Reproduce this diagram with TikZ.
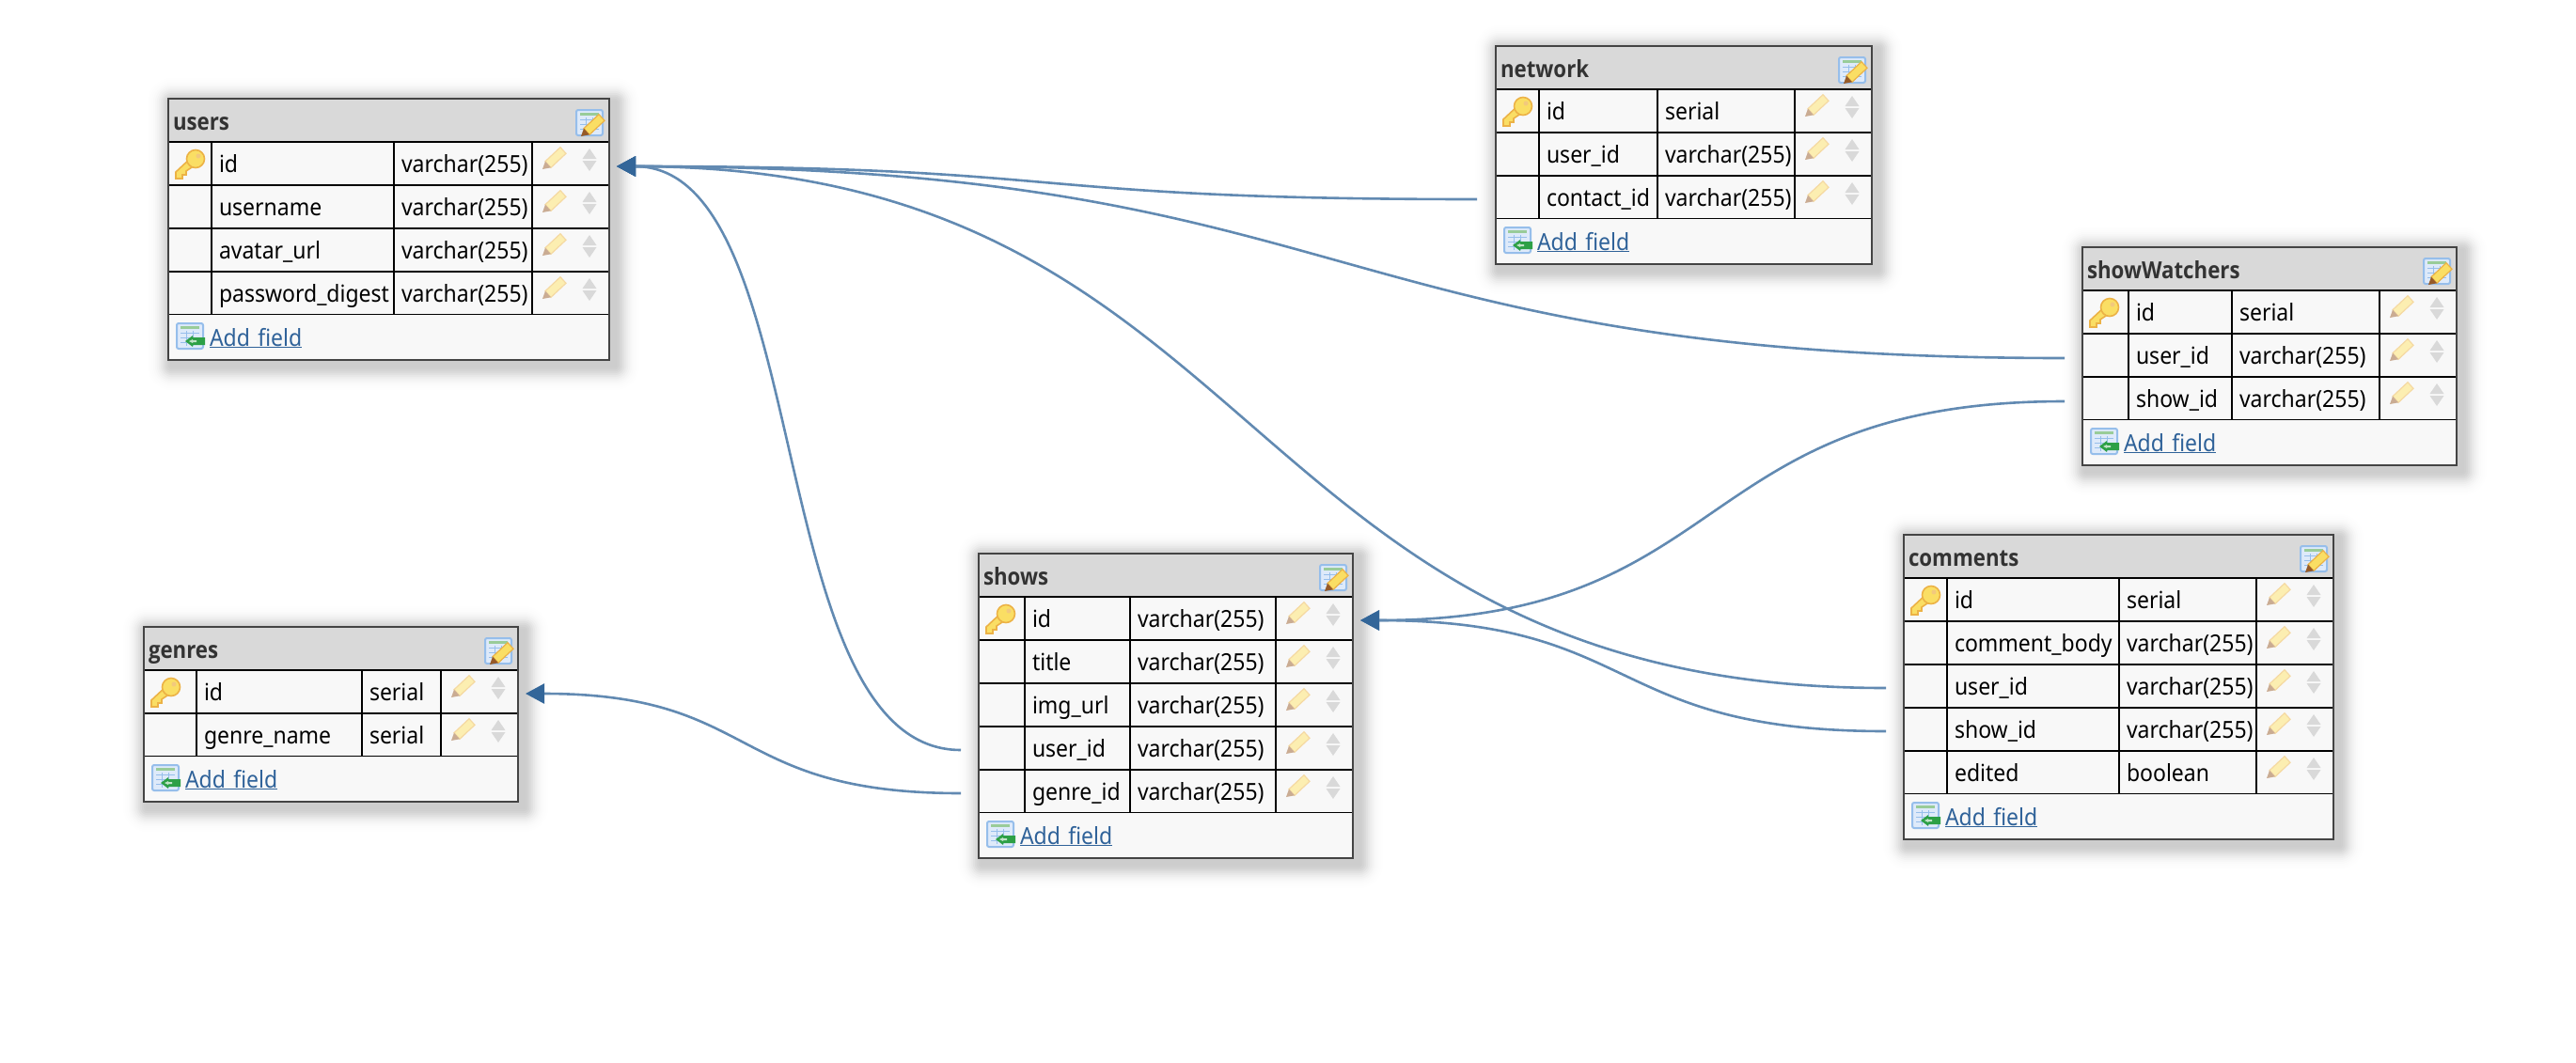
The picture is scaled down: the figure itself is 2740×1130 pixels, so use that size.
\documentclass[tikz,border=0pt]{standalone}
\usepackage{fontspec}
\setmainfont[FakeStretch=0.92]{Noto Sans}
\newfontfamily\titlefont[FakeStretch=0.89]{Open Sans}
\usepackage{xcolor}
\definecolor{linkblue}{RGB}{51, 102, 153}
\definecolor{linkline}{RGB}{98, 138, 178}
\definecolor{fieldblue}{RGB}{47, 98, 153}
\definecolor{cellgrey}{RGB}{248, 248, 248}
\definecolor{titlegrey}{RGB}{217, 217, 217}
\definecolor{framegrey}{RGB}{68, 68, 68}
\definecolor{keygold}{RGB}{250, 222, 100}
\definecolor{keyedge}{RGB}{236, 178, 70}
\definecolor{tipbrown}{RGB}{150, 90, 40}
\definecolor{iconblue}{RGB}{222, 234, 250}
\definecolor{iconedge}{RGB}{150, 190, 235}
\definecolor{addgreen}{RGB}{45, 160, 70}
\usepackage{tikz}
\usetikzlibrary{arrows.meta, positioning, calc, fit, backgrounds}

\tikzset{
  cell/.style={draw=black, line width=2pt, fill=cellgrey, outer sep=0pt, inner xsep=0pt, inner ysep=0pt,
    align=left, text=black, text height=32pt, text depth=14pt, font=\fontsize{25}{30}\selectfont, text width=#1pt},
  titlecell/.style={cell=#1, draw=none, fill=titlegrey, text=black!80, text height=33pt, text depth=13pt,
    font=\titlefont\bfseries\fontsize{25}{30}\selectfont},
  footcell/.style={cell=#1, draw=none, text=fieldblue, text height=33pt, text depth=15pt},
  tableframe/.style={draw=framegrey, line width=2.4pt, inner sep=0pt},
  fklink/.style={draw=linkline, line width=2.6pt, -{Triangle[length=20pt,width=21pt,color=linkblue]}},
  pics/pencilicon/.style={code={
    \fill[keygold!#1!white, draw=keyedge!#1!white, line width=1.2pt] (-10,2.7) -- (6,-12.3) -- (12,-5.7) -- (-4,9.3) -- cycle;
    \fill[tipbrown!#1!white] (-13,11) -- (-10,2.7) -- (-4,9.3) -- cycle;
  }},
  pics/sorticon/.style={code={
    \fill[black!15] (-7.5,-5) -- (0,-16) -- (7.5,-5) -- cycle;
    \fill[black!15] (-7.5,-3) -- (0,8) -- (7.5,-3) -- cycle;
  }},
  pics/keyicon/.style={code={
    \fill[keygold, draw=keyedge, line width=1.6pt] (0,-6) -- (-15,8) -- (-15,15) -- (-8,15) -- (-8,11) -- (-4,11) -- (-4,7) -- (5,1) -- cycle;
    \fill[keygold, draw=keyedge, line width=1.6pt] (6,-6) circle (9.5pt);
    \fill[keyedge!70!white] (9,-9) circle (2.5pt);
  }},
  pics/gridicon/.style={code={
    \fill[iconblue, draw=iconedge, line width=2pt, rounded corners=2pt] (0,0) rectangle (28,27);
    \fill[green!50!black!40!white] (4,3) rectangle (24,5.5);
    \draw[iconedge, line width=1pt] (4,10) -- (24,10) (4,15) -- (24,15) (4,20) -- (24,20) (10,8) -- (10,24) (17,8) -- (17,24);
  }},
  pics/addicon/.style={code={
    \fill[addgreen] (0,5) -- (8,-1) -- (8,1) -- (21,1) -- (21,9) -- (8,9) -- (8,11) -- cycle;
    \fill[white!70!addgreen] (4,5) -- (8,3) -- (8,4) -- (12,4) -- (12,6) -- (8,6) -- (8,7) -- cycle;
  }},
}

% one table: name, left, top, three column widths, fields
\newcommand{\dbtable}[7]{
  \pgfmathsetmacro{\tablew}{#4+#5+#6+82}
  \node[titlecell=\tablew, anchor=north west] (#1) at (#2,#3) {\hspace*{5pt}#1};
  \foreach \fname/\ftype [count=\i] in {#7} {
    \node[cell=#4, anchor=north west] (#1-\i-key) at ($(#1.south west)+(0,{46*(\i-1)})$) {};
    \node[cell=#5, right=0pt of #1-\i-key] (#1-\i-name) {\hspace*{8pt}\mbox{\fname}};
    \node[cell=#6, right=0pt of #1-\i-name] (#1-\i-type) {\hspace*{8pt}\mbox{\ftype}};
    \node[cell=82, right=0pt of #1-\i-type] (#1-\i-edit) {};
    \pic at ([xshift=24pt,yshift=5pt]#1-\i-edit.west) {pencilicon=50};
    \pic at ([xshift=61pt]#1-\i-edit.west) {sorticon};
    \xdef\lastrow{\i}
  }
  \pic at ([xshift=23pt,yshift=-1pt]#1-1-key.west) {keyicon};
  \node[footcell=\tablew, anchor=north west] (#1-foot) at ($(#1.south west)+(0,{46*\lastrow})$) {\hspace*{44pt}\underline{Add field}};
  \node[tableframe, fit=(#1) (#1-foot)] (#1-frame) {};
  % title icon
  \pic at ([xshift=-35pt,yshift=-12pt]#1.north east) {gridicon};
  \pic at ([xshift=-17pt,yshift=-29pt]#1.north east) {pencilicon=100};
  % add field icon
  \pic at ([xshift=9pt,yshift=-9pt]#1-foot.north west) {gridicon};
  \pic at ([xshift=18pt,yshift=-23pt]#1-foot.north west) {addicon};
  % shadow
  \begin{scope}[on background layer]
    \foreach \blur in {2,4,...,26} {
      \pgfmathsetmacro{\shade}{0.005*\blur*exp(-\blur*\blur/162)}
      \fill[black, opacity=\shade, rounded corners=\blur pt]
        ([xshift={5pt-\blur pt},yshift={-5pt+\blur pt}]#1-frame.north west) rectangle ([xshift={5pt+\blur pt},yshift={-5pt-\blur pt}]#1-frame.south east);
    }
  \end{scope}
}

\begin{document}
\begin{tikzpicture}[x=1pt, y=-1pt]
\begin{scope}[on background layer]
\fill[white] (0,0) rectangle (2740,1130);
\end{scope}
\useasboundingbox (0,0) rectangle (2740,1130);

% tables
\dbtable{users}{179}{105}{46}{194}{147}{id/varchar(255), username/varchar(255), avatar\_url/varchar(255), password\_digest/varchar(255)}
\dbtable{network}{1591}{49}{46}{126}{146}{id/serial, user\_id/varchar(255), contact\_id/varchar(255)}
\dbtable{showWatchers}{2215}{263}{49}{110}{157}{id/serial, user\_id/varchar(255), show\_id/varchar(255)}
\dbtable{comments}{2025}{569}{46}{183}{146}{id/serial, comment\_body/varchar(255), user\_id/varchar(255), show\_id/varchar(255), edited/boolean}
\dbtable{shows}{1041}{589}{49}{112}{155}{id/varchar(255), title/varchar(255), img\_url/varchar(255), user\_id/varchar(255), genre\_id/varchar(255)}
\dbtable{genres}{153}{667}{56}{176}{84}{id/serial, genre\_name/serial}

% links
\draw[fklink] ([xshift=-20pt,yshift=-2pt]network-3-key.west) .. controls +(-500,0) and +(500,0) .. ([xshift=8pt,yshift=-3pt]users-1-edit.east);
\draw[fklink] ([xshift=-19pt,yshift=-3pt]showWatchers-2-key.west) .. controls +(-800,0) and +(800,0) .. ([xshift=8pt,yshift=-3pt]users-1-edit.east);
\draw[fklink] ([xshift=-19pt,yshift=-2pt]comments-3-key.west) .. controls +(-700,0) and +(700,0) .. ([xshift=8pt,yshift=-3pt]users-1-edit.east);
\draw[fklink] ([xshift=-19pt,yshift=-2pt]shows-4-key.west) .. controls +(-213,0) and +(213,0) .. ([xshift=8pt,yshift=-3pt]users-1-edit.east);
\draw[fklink] ([xshift=-19pt,yshift=-2pt]shows-5-key.west) .. controls +(-250,0) and +(250,0) .. ([xshift=8pt,yshift=-2pt]genres-1-edit.east);
\draw[fklink] ([xshift=-19pt,yshift=-3pt]showWatchers-3-key.west) .. controls +(-400,0) and +(400,0) .. ([xshift=8pt,yshift=-2pt]shows-1-edit.east);
\draw[fklink] ([xshift=-19pt,yshift=-2pt]comments-4-key.west) .. controls +(-300,0) and +(300,0) .. ([xshift=8pt,yshift=-2pt]shows-1-edit.east);
\end{tikzpicture}
\end{document}
